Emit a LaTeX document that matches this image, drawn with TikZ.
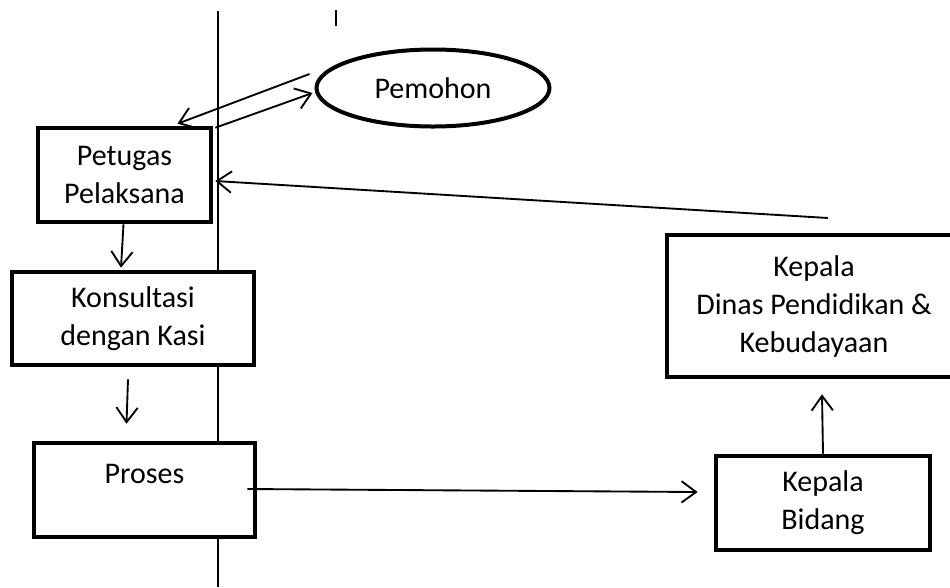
\documentclass[tikz,border=0pt]{standalone}
\usepackage{fontspec}
\setmainfont{Carlito}
\usetikzlibrary{arrows.meta,shapes.geometric}
\begin{document}
\begin{tikzpicture}[x=0.75pt,y=-0.75pt,
    kotak/.style={draw,line width=3.4pt,fill=white,inner sep=0pt,align=center},
    panah/.style={line width=1.4pt,-{Straight Barb[length=11pt,width=16pt,line width=1.4pt]}},
    every node/.style={font=\fontsize{22.5}{28.5}\selectfont}]
  \useasboundingbox (0,0) rectangle (950,587);
  \clip (0,0) rectangle (950,587);
  % ------ garis batas -----------------------------
  \draw [line width=0.8pt] (218,11)--(218,587);
  \draw [line width=0.8pt] (336,10)--(336,26);
  % ------ kotak-kotak -----------------------------
  \node [draw,ellipse,line width=3pt,fill=white,inner sep=0pt,
         minimum width=174.75pt,minimum height=57.75pt] (pemohon) at (433,88) {Pemohon};
  \node [kotak,minimum width=129.75pt,minimum height=70.5pt] (petugas) at (124.5,175) {Petugas\\Pelaksana};
  \node [kotak,minimum width=181.5pt,minimum height=69.75pt] (konsultasi) at (133,318.5) {Konsultasi\\dengan Kasi};
  \node [kotak,minimum width=165.75pt,minimum height=70.5pt] (proses) at (144.5,490) {Proses\\[-4pt] \mbox{}};
  \node [kotak,minimum width=220.5pt,minimum height=106.5pt] (dinas) at (814,306) {Kepala\\Dinas Pendidikan \&\\Kebudayaan};
  \node [kotak,minimum width=160.5pt,minimum height=70.5pt] (bidang) at (823,503) {Kepala\\Bidang};
  \coordinate (balik) at (828,218);
  % ------ panah -----------------------------
  \draw [panah] ([shift={(-5,-14)}]pemohon.west) -- ([shift={(53,-2)}]petugas.north);
  \draw [panah] ([shift={(2,2)}]petugas.north east) -- ([shift={(-2,5)}]pemohon.west);
  \draw [panah] (balik) -- ([shift={(2,6)}]petugas.east);
  \draw [panah] ([shift={(-1,0)}]petugas.south) -- ([shift={(-12,-2)}]konsultasi.north);
  \draw [panah] ([shift={(-5,12)}]konsultasi.south) -- ([shift={(-18,-17)}]proses.north);
  \draw [panah] ([shift={(-10,-1)}]proses.east) -- ([shift={(-16,-11)}]bidang.west);
  \draw [panah] (bidang.north) -- ([shift={(8,15)}]dinas.south);
\end{tikzpicture}
\end{document}
